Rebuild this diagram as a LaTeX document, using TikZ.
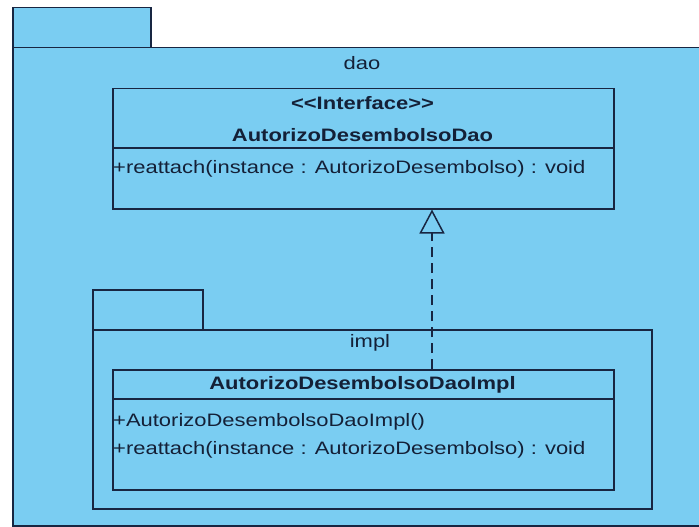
\documentclass[tikz,border=0pt]{standalone}
\usepackage{fontspec}
\setmainfont{Liberation Sans}[FakeStretch=1.22, Ligatures=TeXOff]
\usetikzlibrary{arrows.meta}

\definecolor{pkgfill}{RGB}{122,205,242}
\definecolor{linecol}{RGB}{24,38,66}
\definecolor{textcol}{RGB}{20,32,55}

\begin{document}
\begin{tikzpicture}[
        x=1pt, y=-1pt, % координаты в пикселях, ось y вниз
        box/.style = {draw=linecol, fill=pkgfill, line width=1.5pt, rectangle, inner sep=0pt, anchor=north west}, % пакеты и классы
        sep/.style = {draw=linecol, line width=1.5pt},
        txt/.style = {text=textcol, font=\fontsize{18}{20}\selectfont, inner sep=0pt},
        head/.style = {txt, font=\fontsize{18}{20}\selectfont\bfseries},
        oper/.style = {txt, anchor=west},
        real/.style = {draw=linecol, line width=1.5pt, dash pattern=on 10pt off 6pt,
                -{Triangle[open, length=24pt, width=25pt, line width=1.5pt]}}, % реализация
    ]
    \useasboundingbox (0,0) rectangle (699,527);

    % пакет dao
    \node[box, minimum width=138pt, minimum height=40pt] (daotab) at (12,7) {};
    \node[box, minimum width=700pt, minimum height=478pt] (daobody) at (12,47) {};
    \node[txt] (daolbl) at (362,63) {dao};

    % интерфейс
    \node[box, minimum width=501pt, minimum height=120pt] (ifc) at (112,88) {};
    \node[head] (ifcst) at (362.5,103) {<<Interface>>};
    \node[head] (ifcname) at (362.5,135) {AutorizoDesembolsoDao};
    \draw[sep] ([yshift=-60pt]ifc.north west) -- ([yshift=-60pt]ifc.north east);
    \node[oper] (ifcop) at (113,169) {+reattach(instance : AutorizoDesembolso) : void};

    % пакет impl
    \node[box, minimum width=110pt, minimum height=40pt] (impltab) at (92,289) {};
    \node[box, minimum width=559pt, minimum height=179pt] (implbody) at (92,329) {};
    \node[txt] (impllbl) at (370,343) {impl};

    % класс реализации
    \node[box, minimum width=501pt, minimum height=120pt] (impl) at (112,369) {};
    \node[head] (implname) at (362.5,385) {AutorizoDesembolsoDaoImpl};
    \draw[sep] ([yshift=-30pt]impl.north west) -- ([yshift=-30pt]impl.north east);
    \node[oper] (implop1) at (113,422) {+AutorizoDesembolsoDaoImpl()};
    \node[oper] (implop2) at (113,450) {+reattach(instance : AutorizoDesembolso) : void};

    \draw[real] ([xshift=320pt]impl.north west) -- ([xshift=320pt]ifc.south west);
\end{tikzpicture}
\end{document}
